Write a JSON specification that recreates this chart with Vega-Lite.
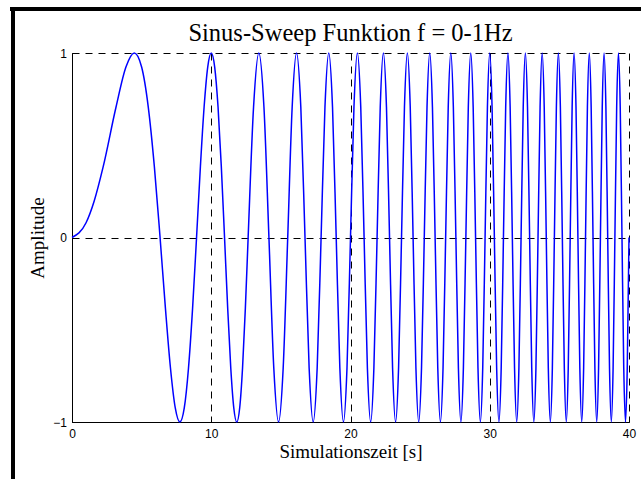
{
  "$schema": "https://vega.github.io/schema/vega-lite/v6.json",
  "width": 557,
  "height": 369,
  "autosize": {"type": "none"},
  "padding": {"left": 72, "top": 53, "right": 12, "bottom": 57},
  "background": "white",
  "title": {
    "text": "Sinus-Sweep Funktion f = 0-1Hz",
    "font": "Liberation Serif",
    "fontSize": 24.5,
    "fontWeight": "normal",
    "color": "black",
    "anchor": "middle",
    "baseline": "alphabetic",
    "offset": -34,
    "dy": 26
  },
  "config": {
    "view": {"stroke": null},
    "axis": {
      "labelFont": "Liberation Sans",
      "labelFontSize": 12,
      "labelColor": "black",
      "titleFont": "Liberation Serif",
      "titleFontSize": 19,
      "titleFontWeight": "normal",
      "titleColor": "black",
      "domainColor": "black",
      "domainWidth": 1,
      "tickColor": "black",
      "tickSize": -6,
      "gridColor": "black",
      "gridOpacity": 1,
      "gridWidth": 1,
      "gridDash": [7, 6],
      "labelFlush": false,
      "labelOverlap": false,
      "format": "d",
      "zindex": 1
    }
  },
  "layer": [
    {
      "data": {
        "values": [
          {"t": 0, "a": 0},
          {"t": 1, "a": 0.0785},
          {"t": 1.6, "a": 0.1997},
          {"t": 2.2361, "a": 0.3827},
          {"t": 3.1623, "a": 0.7071},
          {"t": 3.873, "a": 0.9239},
          {"t": 4.4721, "a": 1},
          {"t": 5.0, "a": 0.9239},
          {"t": 5.4772, "a": 0.7071},
          {"t": 5.9161, "a": 0.3827},
          {"t": 6.3246, "a": 0},
          {"t": 6.7082, "a": -0.3827},
          {"t": 7.0711, "a": -0.7071},
          {"t": 7.4162, "a": -0.9239},
          {"t": 7.746, "a": -1},
          {"t": 8.0623, "a": -0.9239},
          {"t": 8.3666, "a": -0.7071},
          {"t": 8.6603, "a": -0.3827},
          {"t": 8.9443, "a": 0},
          {"t": 9.2195, "a": 0.3827},
          {"t": 9.4868, "a": 0.7071},
          {"t": 9.7468, "a": 0.9239},
          {"t": 10.0, "a": 1},
          {"t": 10.247, "a": 0.9239},
          {"t": 10.4881, "a": 0.7071},
          {"t": 10.7238, "a": 0.3827},
          {"t": 10.9545, "a": 0},
          {"t": 11.1803, "a": -0.3827},
          {"t": 11.4018, "a": -0.7071},
          {"t": 11.619, "a": -0.9239},
          {"t": 11.8322, "a": -1},
          {"t": 12.0416, "a": -0.9239},
          {"t": 12.2474, "a": -0.7071},
          {"t": 12.4499, "a": -0.3827},
          {"t": 12.6491, "a": 0},
          {"t": 13.0384, "a": 0.7071},
          {"t": 13.4164, "a": 1},
          {"t": 13.784, "a": 0.7071},
          {"t": 14.1421, "a": 0},
          {"t": 14.4914, "a": -0.7071},
          {"t": 14.8324, "a": -1},
          {"t": 15.1658, "a": -0.7071},
          {"t": 15.4919, "a": 0},
          {"t": 15.8114, "a": 0.7071},
          {"t": 16.1245, "a": 1},
          {"t": 16.4317, "a": 0.7071},
          {"t": 16.7332, "a": 0},
          {"t": 17.0294, "a": -0.7071},
          {"t": 17.3205, "a": -1},
          {"t": 17.6068, "a": -0.7071},
          {"t": 17.8885, "a": 0},
          {"t": 18.1659, "a": 0.7071},
          {"t": 18.4391, "a": 1},
          {"t": 18.7083, "a": 0.7071},
          {"t": 18.9737, "a": 0},
          {"t": 19.2354, "a": -0.7071},
          {"t": 19.4936, "a": -1},
          {"t": 19.7484, "a": -0.7071},
          {"t": 20.0, "a": 0},
          {"t": 20.2485, "a": 0.7071},
          {"t": 20.4939, "a": 1},
          {"t": 20.7364, "a": 0.7071},
          {"t": 20.9762, "a": 0},
          {"t": 21.2132, "a": -0.7071},
          {"t": 21.4476, "a": -1},
          {"t": 21.6795, "a": -0.7071},
          {"t": 21.9089, "a": 0},
          {"t": 22.1359, "a": 0.7071},
          {"t": 22.3607, "a": 1},
          {"t": 22.5832, "a": 0.7071},
          {"t": 22.8035, "a": 0},
          {"t": 23.0217, "a": -0.7071},
          {"t": 23.2379, "a": -1},
          {"t": 23.4521, "a": -0.7071},
          {"t": 23.6643, "a": 0},
          {"t": 23.8747, "a": 0.7071},
          {"t": 24.0832, "a": 1},
          {"t": 24.2899, "a": 0.7071},
          {"t": 24.4949, "a": 0},
          {"t": 24.6982, "a": -0.7071},
          {"t": 24.8998, "a": -1},
          {"t": 25.0998, "a": -0.7071},
          {"t": 25.2982, "a": 0},
          {"t": 25.4951, "a": 0.7071},
          {"t": 25.6905, "a": 1},
          {"t": 25.8844, "a": 0.7071},
          {"t": 26.0768, "a": 0},
          {"t": 26.2679, "a": -0.7071},
          {"t": 26.4575, "a": -1},
          {"t": 26.6458, "a": -0.7071},
          {"t": 26.8328, "a": 0},
          {"t": 27.0185, "a": 0.7071},
          {"t": 27.2029, "a": 1},
          {"t": 27.3861, "a": 0.7071},
          {"t": 27.5681, "a": 0},
          {"t": 27.7489, "a": -0.7071},
          {"t": 27.9285, "a": -1},
          {"t": 28.1069, "a": -0.7071},
          {"t": 28.2843, "a": 0},
          {"t": 28.4605, "a": 0.7071},
          {"t": 28.6356, "a": 1},
          {"t": 28.8097, "a": 0.7071},
          {"t": 28.9828, "a": 0},
          {"t": 29.1548, "a": -0.7071},
          {"t": 29.3258, "a": -1},
          {"t": 29.4958, "a": -0.7071},
          {"t": 29.6648, "a": 0},
          {"t": 29.8329, "a": 0.7071},
          {"t": 30.0, "a": 1},
          {"t": 30.1662, "a": 0.7071},
          {"t": 30.3315, "a": 0},
          {"t": 30.4959, "a": -0.7071},
          {"t": 30.6594, "a": -1},
          {"t": 30.8221, "a": -0.7071},
          {"t": 30.9839, "a": 0},
          {"t": 31.1448, "a": 0.7071},
          {"t": 31.305, "a": 1},
          {"t": 31.4643, "a": 0.7071},
          {"t": 31.6228, "a": 0},
          {"t": 31.7805, "a": -0.7071},
          {"t": 31.9374, "a": -1},
          {"t": 32.0936, "a": -0.7071},
          {"t": 32.249, "a": 0},
          {"t": 32.4037, "a": 0.7071},
          {"t": 32.5576, "a": 1},
          {"t": 32.7109, "a": 0.7071},
          {"t": 32.8634, "a": 0},
          {"t": 33.0151, "a": -0.7071},
          {"t": 33.1662, "a": -1},
          {"t": 33.3167, "a": -0.7071},
          {"t": 33.4664, "a": 0},
          {"t": 33.6155, "a": 0.7071},
          {"t": 33.7639, "a": 1},
          {"t": 33.9116, "a": 0.7071},
          {"t": 34.0588, "a": 0},
          {"t": 34.2053, "a": -0.7071},
          {"t": 34.3511, "a": -1},
          {"t": 34.4964, "a": -0.7071},
          {"t": 34.641, "a": 0},
          {"t": 34.7851, "a": 0.7071},
          {"t": 34.9285, "a": 1},
          {"t": 35.0714, "a": 0.7071},
          {"t": 35.2136, "a": 0},
          {"t": 35.3553, "a": -0.7071},
          {"t": 35.4965, "a": -1},
          {"t": 35.6371, "a": -0.7071},
          {"t": 35.7771, "a": 0},
          {"t": 35.9166, "a": 0.7071},
          {"t": 36.0555, "a": 1},
          {"t": 36.1939, "a": 0.7071},
          {"t": 36.3318, "a": 0},
          {"t": 36.4692, "a": -0.7071},
          {"t": 36.606, "a": -1},
          {"t": 36.7423, "a": -0.7071},
          {"t": 36.8782, "a": 0},
          {"t": 37.0135, "a": 0.7071},
          {"t": 37.1484, "a": 1},
          {"t": 37.2827, "a": 0.7071},
          {"t": 37.4166, "a": 0},
          {"t": 37.55, "a": -0.7071},
          {"t": 37.6829, "a": -1},
          {"t": 37.8153, "a": -0.7071},
          {"t": 37.9473, "a": 0},
          {"t": 38.0789, "a": 0.7071},
          {"t": 38.2099, "a": 1},
          {"t": 38.3406, "a": 0.7071},
          {"t": 38.4708, "a": 0},
          {"t": 38.6005, "a": -0.7071},
          {"t": 38.7298, "a": -1},
          {"t": 38.8587, "a": -0.7071},
          {"t": 38.9872, "a": 0},
          {"t": 39.1152, "a": 0.7071},
          {"t": 39.2428, "a": 1},
          {"t": 39.37, "a": 0.7071},
          {"t": 39.4968, "a": 0},
          {"t": 39.6232, "a": -0.7071},
          {"t": 39.7492, "a": -1},
          {"t": 39.8748, "a": -0.7071},
          {"t": 40.0, "a": 0}
        ]
      },
      "mark": {"type": "line", "color": "#0000ff", "strokeWidth": 1.5, "interpolate": "monotone"},
      "encoding": {
        "x": {
          "field": "t",
          "type": "quantitative",
          "scale": {"domain": [0, 40], "nice": false, "zero": false},
          "axis": {
            "title": "Simulationszeit [s]",
            "values": [0, 10, 20, 30, 40],
            "labelPadding": 12,
            "titleBaseline": "alphabetic",
            "titleY": 35
          }
        },
        "y": {
          "field": "a",
          "type": "quantitative",
          "scale": {"domain": [-1, 1], "nice": false, "zero": false},
          "axis": {
            "title": "Amplitude",
            "values": [-1, 0, 1],
            "labelPadding": 11.5,
            "titleBaseline": "alphabetic",
            "titleX": -28.5
          }
        }
      }
    },
    {
      "data": {"values": [{}]},
      "mark": {"type": "rule", "color": "black", "strokeWidth": 4, "clip": false},
      "encoding": {
        "x": {"datum": -4.452, "type": "quantitative"},
        "x2": {"datum": 41.2},
        "y": {"datum": 1.2385, "type": "quantitative"}
      }
    },
    {
      "data": {"values": [{}]},
      "mark": {"type": "rule", "color": "black", "strokeWidth": 4, "clip": false},
      "encoding": {
        "x": {"datum": -4.237, "type": "quantitative"},
        "y": {"datum": 1.2493, "type": "quantitative"},
        "y2": {"datum": -1.4}
      }
    }
  ]
}
